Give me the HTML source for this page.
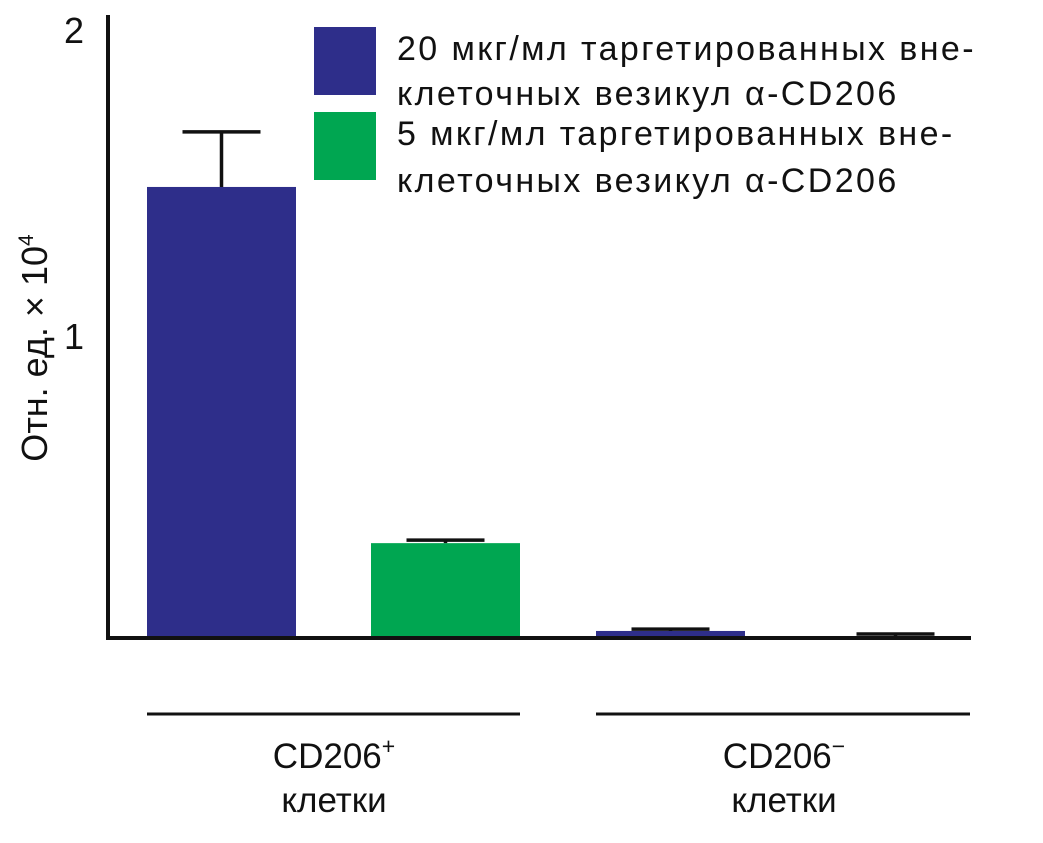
<!DOCTYPE html>
<html><head><meta charset="utf-8"><style>
body{margin:0;background:#fff}
svg text{font-family:"Liberation Sans","DejaVu Sans",sans-serif;fill:#111}
</style></head><body>
<svg width="1043" height="838" viewBox="0 0 1043 838">
<g id="bars"></g>
<line x1="108" y1="15" x2="108" y2="640" stroke="#111" stroke-width="4"/>
<line x1="106" y1="638" x2="971" y2="638" stroke="#111" stroke-width="4"/>
<g id="ticks"></g>
<text transform="translate(47,348) rotate(-90)" text-anchor="middle" font-size="36">Отн. ед. × 10<tspan font-size="21" dy="-14">4</tspan></text>
<line x1="147" y1="714" x2="520" y2="714" stroke="#111" stroke-width="3"/>
<line x1="596" y1="714" x2="970" y2="714" stroke="#111" stroke-width="3"/>
<text x="334" y="768" text-anchor="middle" font-size="35">CD206<tspan font-size="23" dy="-14">+</tspan></text>
<text x="334" y="812" text-anchor="middle" font-size="35">клетки</text>
<text x="784" y="768" text-anchor="middle" font-size="35">CD206<tspan font-size="23" dy="-14">−</tspan></text>
<text x="784" y="812" text-anchor="middle" font-size="35">клетки</text>
<g>
<rect x="314" y="27" width="62" height="68" fill="#2e2e8a"/>
<rect x="314" y="112" width="62" height="68" fill="#00a651"/>
<text x="397" y="60" font-size="34" letter-spacing="2.4">20 мкг/мл таргетированных вне-</text>
<text x="397" y="105" font-size="34" letter-spacing="2.4">клеточных везикул α-CD206</text>
<text x="397" y="145" font-size="34" letter-spacing="2.4">5 мкг/мл таргетированных вне-</text>
<text x="397" y="192" font-size="34" letter-spacing="2.4">клеточных везикул α-CD206</text>
</g>
</svg>
<script>
const categories=["CD206+ 20","CD206+ 5","CD206- 20","CD206- 5"];
const values=[1.474,0.31,0.023,0.005];
const errors=[0.18,0.01,0.006,0.008];
const yTicks=[1,2];
const barX=[147,371,596,821];
const colors=["#2e2e8a","#00a651","#2e2e8a","#00a651"];
const y0=638,scale=306;
function yScale(v){return y0-v*scale;}
const ns="http://www.w3.org/2000/svg";
const g=document.getElementById("bars");
values.forEach((v,i)=>{
 const r=document.createElementNS(ns,"rect");
 
 
 r.setAttribute("x",barX[i]);r.setAttribute("width",149);
 r.setAttribute("y",yScale(v));r.setAttribute("height",y0-yScale(v));
 r.setAttribute("fill",colors[i]);g.appendChild(r);
 const cx=barX[i]+74.5,top=yScale(v+errors[i]);
 const l=document.createElementNS(ns,"path");
 
 
 l.setAttribute("d",`M${cx},${yScale(v)}V${top}M${cx-39},${top}H${cx+39}`);
 l.setAttribute("stroke","#111");l.setAttribute("stroke-width",3.5);l.setAttribute("fill","none");
 g.appendChild(l);
});
const t=document.getElementById("ticks");
yTicks.forEach(v=>{
 const tx=document.createElementNS(ns,"text");
 
 
 tx.setAttribute("x",74);tx.setAttribute("y",yScale(v)+17);
 tx.setAttribute("text-anchor","middle");tx.setAttribute("font-size","36");
 tx.textContent=v;t.appendChild(tx);
});
</script>
</body></html>
